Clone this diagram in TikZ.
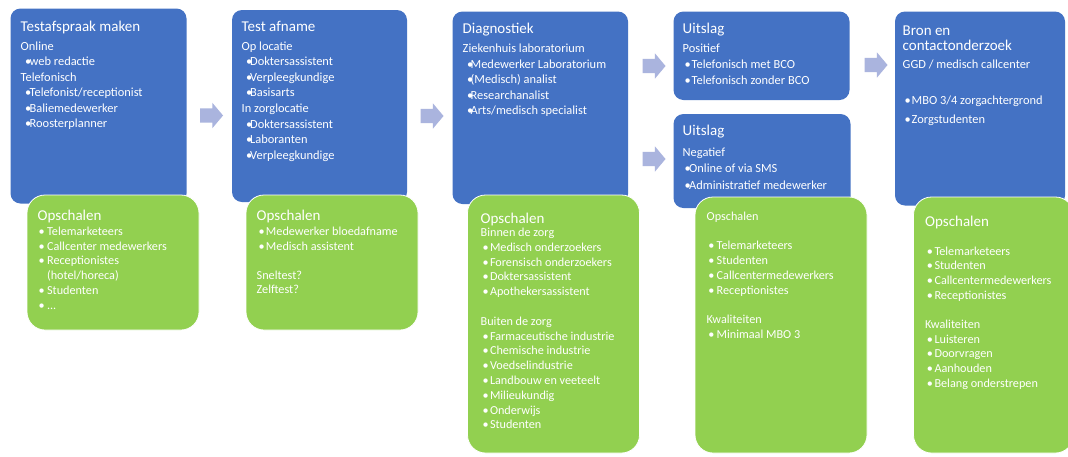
\documentclass[tikz,border=0pt]{standalone}
\usepackage{fontspec}
\setmainfont{Carlito}
\usetikzlibrary{shapes.arrows}
\definecolor{boxblue}{RGB}{68,114,196}
\definecolor{boxgreen}{RGB}{146,208,80}
\definecolor{arrowc}{RGB}{170,180,222}
\newcommand{\bl}[2]{\makebox[#2pt][l]{\hspace*{#1pt}•}}
\newcommand{\lns}[1]{\begin{tabular}[t]{@{}l@{}}#1\end{tabular}}
\tikzset{
  bluebox/.style={fill=boxblue, rounded corners=10pt, inner sep=0pt, outer sep=0pt, anchor=north west},
  greenbox/.style={fill=boxgreen, draw=white, line width=0.8pt, rounded corners=18pt, inner sep=0pt, outer sep=0pt, anchor=north west},
  ttl/.style={anchor=base west, inner sep=0pt, text=white, font=\fontsize{15}{15.5}\selectfont},
  txt/.style={anchor=base west, inner sep=0pt, text=white},
  flowarrow/.style={single arrow, fill=arrowc, draw=none, inner xsep=0pt, inner ysep=7pt, minimum height=23pt, single arrow head extend=5.5pt, single arrow tip angle=100}
}
\begin{document}
\begin{tikzpicture}[x=1pt,y=-1pt]
\path[use as bounding box, fill=white] (0,0) rectangle (1068,456);

% ---------- column 1 ----------
\node[bluebox, minimum width=176pt, minimum height=195pt] (b1) at (10.5,8.5) {};
\node[greenbox, minimum width=172pt, minimum height=135pt] (g1) at (27,195) {};
\node[ttl] (t1) at (20.5,31.5) {Testafspraak maken};
\node[txt, font=\fontsize{12.4}{15.4}\selectfont] (x1) at (20.5,50.5) {\lns{Online\\
\bl{4.5}{9}web redactie\\
Telefonisch\\
\bl{4.5}{9}Telefonist/receptionist\\
\bl{4.5}{9}Baliemedewerker\\
\bl{4.5}{9}Roosterplanner}};
\node[ttl] (gt1) at (37.5,220) {Opschalen};
\node[txt, font=\fontsize{12.2}{14.7}\selectfont] (gx1) at (37.5,235.5) {\lns{\bl{1}{9.4}Telemarketeers\\
\bl{1}{9.4}Callcenter medewerkers\\
\bl{1}{9.4}Receptionistes\\
\hspace*{9.4pt}(hotel/horeca)\\
\bl{1}{9.4}Studenten\\
\bl{1}{9.4}...}};

% ---------- column 2 ----------
\node[bluebox, minimum width=175pt, minimum height=192pt] (b2) at (232,10) {};
\node[greenbox, minimum width=172pt, minimum height=135pt] (g2) at (246,195) {};
\node[ttl] (t2) at (241.5,31) {Test afname};
\node[txt, font=\fontsize{12.4}{15.6}\selectfont] (x2) at (241.5,50) {\lns{Op locatie\\
\bl{4.5}{8.5}Doktersassistent\\
\bl{4.5}{8.5}Verpleegkundige\\
\bl{4.5}{8.5}Basisarts\\
In zorglocatie\\
\bl{4.5}{8.5}Doktersassistent\\
\bl{4.5}{8.5}Laboranten\\
\bl{4.5}{8.5}Verpleegkundige}};
\node[ttl] (gt2) at (256.5,220) {Opschalen};
\node[txt, font=\fontsize{12.2}{14.6}\selectfont] (gx2) at (256.5,235.5) {\lns{\bl{2}{9.3}Medewerker bloedafname\\
\bl{2}{9.3}Medisch assistent\\
\\
Sneltest?\\
Zelftest?}};

% ---------- column 3 ----------
\node[bluebox, minimum width=175.5pt, minimum height=192.5pt] (b3) at (452.5,11.5) {};
\node[greenbox, minimum width=172pt, minimum height=258pt] (g3) at (467.5,195) {};
\node[ttl] (t3) at (462.5,33.5) {Diagnostiek};
\node[txt, font=\fontsize{12.4}{15.6}\selectfont] (x3) at (462.5,52.5) {\lns{Ziekenhuis laboratorium\\
\bl{4.5}{8}Medewerker Laboratorium\\
\bl{4.5}{8}(Medisch) analist\\
\bl{4.5}{8}Researchanalist\\
\bl{4.5}{8}Arts/medisch specialist}};
\node[ttl] (gt3) at (480.5,223.5) {Opschalen};
\node[txt, font=\fontsize{12.2}{14.8}\selectfont] (gx3) at (480.5,236.5) {\lns{Binnen de zorg\\
\bl{2}{9.3}Medisch onderzoekers\\
\bl{2}{9.3}Forensisch onderzoekers\\
\bl{2}{9.3}Doktersassistent\\
\bl{2}{9.3}Apothekersassistent\\
\\
Buiten de zorg\\
\bl{2}{9.3}Farmaceutische industrie\\
\bl{2}{9.3}Chemische industrie\\
\bl{2}{9.3}Voedselindustrie\\
\bl{2}{9.3}Landbouw en veeteelt\\
\bl{2}{9.3}Milieukundig\\
\bl{2}{9.3}Onderwijs\\
\bl{2}{9.3}Studenten}};

% ---------- column 4 ----------
\node[bluebox, minimum width=176pt, minimum height=88.5pt] (b4a) at (673.5,11.5) {};
\node[bluebox, minimum width=177pt, minimum height=94pt] (b4b) at (673.5,114) {};
\node[greenbox, minimum width=172pt, minimum height=256pt] (g4) at (695,197) {};
\node[ttl] (t4a) at (682.5,33) {Uitslag};
\node[txt, font=\fontsize{12.4}{16}\selectfont] (x4a) at (682.5,52) {\lns{Positief\\
\bl{2}{9}Telefonisch met BCO\\
\bl{2}{9}Telefonisch zonder BCO}};
\node[ttl] (t4b) at (682.5,135.5) {Uitslag};
\node[txt, font=\fontsize{12.4}{16.7}\selectfont] (x4b) at (682.5,156) {\lns{Negatief\\
\bl{2}{6.5}Online of via SMS\\
\bl{2}{6.5}Administratief medewerker}};
\node[txt, font=\fontsize{12.2}{14.8}\selectfont] (gx4) at (706.5,220) {\lns{Opschalen\\
\\
\bl{1.6}{10}Telemarketeers\\
\bl{1.6}{10}Studenten\\
\bl{1.6}{10}Callcentermedewerkers\\
\bl{1.6}{10}Receptionistes\\
\\
Kwaliteiten\\
\bl{1.6}{10}Minimaal MBO 3}};

% ---------- column 5 ----------
\node[bluebox, minimum width=170pt, minimum height=194pt] (b5) at (895,11.5) {};
\node[greenbox, minimum width=160pt, minimum height=256pt] (g5) at (913.5,197) {};
\node[ttl] (t5) at (902.5,35) {\lns{Bron en\\contactonderzoek}};
\node[txt, font=\fontsize{12.4}{18.2}\selectfont] (x5) at (902.5,68.5) {\lns{GGD / medisch callcenter\\
\\
\bl{2}{9}MBO 3/4 zorgachtergrond\\
\bl{2}{9}Zorgstudenten}};
\node[ttl] (gt5) at (925,226) {Opschalen};
\node[txt, font=\fontsize{12.2}{14.7}\selectfont] (gx5) at (925,255) {\lns{\bl{1.7}{9.3}Telemarketeers\\
\bl{1.7}{9.3}Studenten\\
\bl{1.7}{9.3}Callcentermedewerkers\\
\bl{1.7}{9.3}Receptionistes\\
\\
Kwaliteiten\\
\bl{1.7}{9.3}Luisteren\\
\bl{1.7}{9.3}Doorvragen\\
\bl{1.7}{9.3}Aanhouden\\
\bl{1.7}{9.3}Belang onderstrepen}};

% ---------- block arrows ----------
\node[flowarrow] (a1) at (208.5,115.5) {};
\node[flowarrow] (a2) at (429,116) {};
\node[flowarrow] (a3) at (651,66) {};
\node[flowarrow] (a4) at (651,159) {};
\node[flowarrow] (a5) at (873,65) {};
\end{tikzpicture}
\end{document}
